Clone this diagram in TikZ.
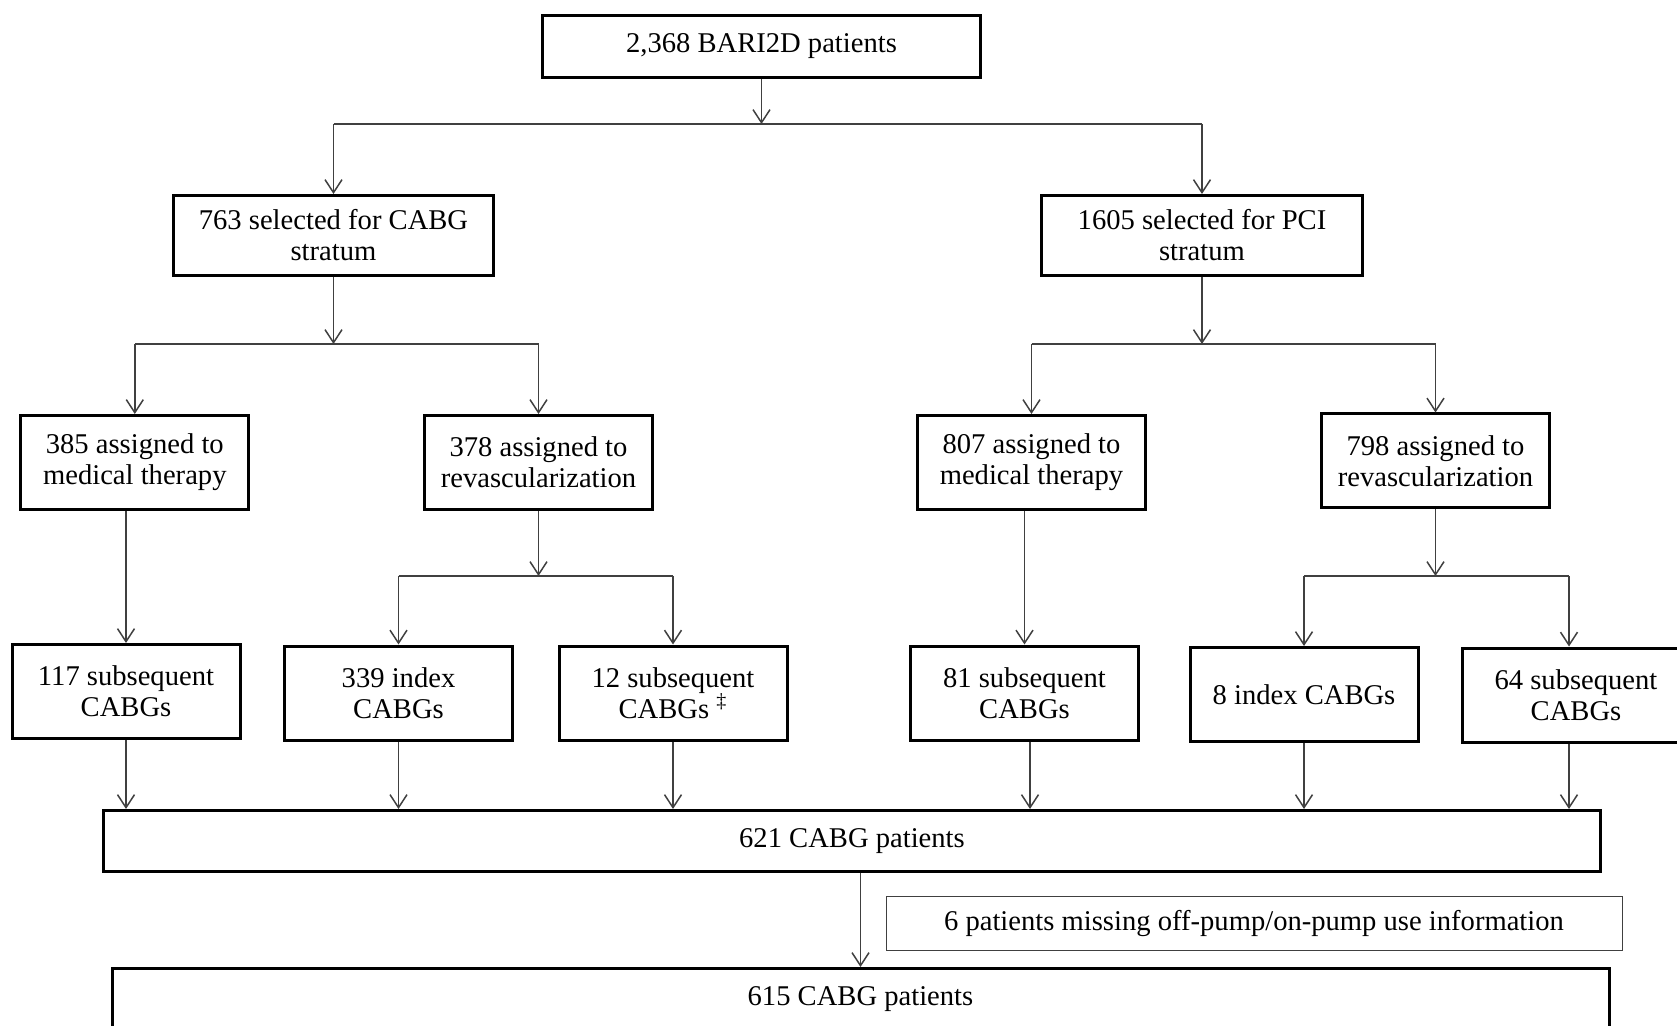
\documentclass[tikz,border=0pt]{standalone}
\usepackage{fontspec}
\setmainfont{Liberation Serif}
\usepackage{tikz}
\usetikzlibrary{arrows.meta,positioning,calc}
\tikzset{
  box/.style={draw=black,line width=1.5pt,align=center,inner sep=2pt,
    minimum width=114pt,minimum height=47pt,
    font=\fontsize{14.3pt}{15.5pt}\selectfont},
  wide/.style={box,minimum width=748.5pt,minimum height=30.5pt},
  note/.style={box,line width=0.5pt,draw=black!75,minimum width=368pt,minimum height=27pt},
  arr/.style={-{Straight Barb[length=6.5pt,width=8.5pt]},line width=0.75pt,color=black!75},
  bar/.style={line width=0.75pt,color=black!75},
}
\begin{document}
\begin{tikzpicture}[x=0.5pt,y=-0.5pt]
\useasboundingbox (0,0) rectangle (1677,1026);
% top
\node[box,minimum width=219pt,minimum height=31pt] (top) at (761.5,46.5) {2,368 BARI2D patients};
% strata
\node[box,minimum width=160pt,minimum height=40pt] (c763) at (333.5,235.5) {763 selected for CABG\\stratum};
\node[box,minimum width=160.5pt,minimum height=40pt] (c1605) at (1202,235.5) {1605 selected for PCI\\stratum};
% assignments
\node[box] (m385) at (134.8,462.5) {385 assigned to\\medical therapy};
\node[box] (r378) at (538.5,462.5) {378 assigned to\\revascularization};
\node[box] (m807) at (1031.5,462.5) {807 assigned to\\medical therapy};
\node[box] (r798) at (1435.5,461) {798 assigned to\\revascularization};
% CABGs
\node[box] (s117) at (126,691.5) {117 subsequent\\CABGs};
\node[box] (i339) at (398.5,693) {339 index\\CABGs};
\node[box] (s12) at (673,693) {12 subsequent\\CABGs \textsuperscript{‡}};
\node[box] (s81) at (1024.5,693) {81 subsequent\\CABGs};
\node[box] (i8) at (1304,694.5) {8 index CABGs};
\node[box] (s64) at (1576,695) {64 subsequent\\CABGs};
% totals
\node[wide] (p621) at (852,841) {621 CABG patients};
\node[note] (miss6) at (1254,923.5) {6 patients missing off-pump/on-pump use information};
\node[wide] (p615) at (860.5,999) {615 CABG patients};
% junctions
\coordinate (j0) at (761.5,124);
\coordinate (j1) at (333.5,344);
\coordinate (j2) at (1202,344);
\coordinate (j3) at (538.5,576);
\coordinate (j4) at (1435.5,576);
\coordinate (k64) at (1569,576);
\coordinate (k81) at (1030,0);
\draw[arr] (top.south) -- (j0);
\draw[bar] (c763.north |- j0) -- (c1605.north |- j0);
\draw[arr] (c763.north |- j0) -- (c763.north);
\draw[arr] (c1605.north |- j0) -- (c1605.north);
\draw[arr] (c763.south) -- (j1);
\draw[bar] (m385.north |- j1) -- (r378.north |- j1);
\draw[arr] (m385.north |- j1) -- (m385.north);
\draw[arr] (r378.north |- j1) -- (r378.north);
\draw[arr] (c1605.south) -- (j2);
\draw[bar] (m807.north |- j2) -- (r798.north |- j2);
\draw[arr] (m807.north |- j2) -- (m807.north);
\draw[arr] (r798.north |- j2) -- (r798.north);
\draw[arr] (s117.north |- m385.south) -- (s117.north);
\draw[arr] (r378.south) -- (j3);
\draw[bar] (i339.north |- j3) -- (s12.north |- j3);
\draw[arr] (i339.north |- j3) -- (i339.north);
\draw[arr] (s12.north |- j3) -- (s12.north);
\draw[arr] (s81.north |- m807.south) -- (s81.north);
\draw[arr] (r798.south) -- (j4);
\draw[bar] (i8.north |- j4) -- (k64);
\draw[arr] (i8.north |- j4) -- (i8.north);
\draw[arr] (k64) -- (k64 |- s64.north);
\foreach \n in {s117,i339,s12,i8}
  \draw[arr] (\n.south) -- (\n.south |- p621.north);
\draw[arr] (k81 |- s81.south) -- (k81 |- p621.north);
\draw[arr] (k64 |- s64.south) -- (k64 |- p621.north);
\draw[arr] (p615.north |- p621.south) -- (p615.north);
\end{tikzpicture}
\end{document}
